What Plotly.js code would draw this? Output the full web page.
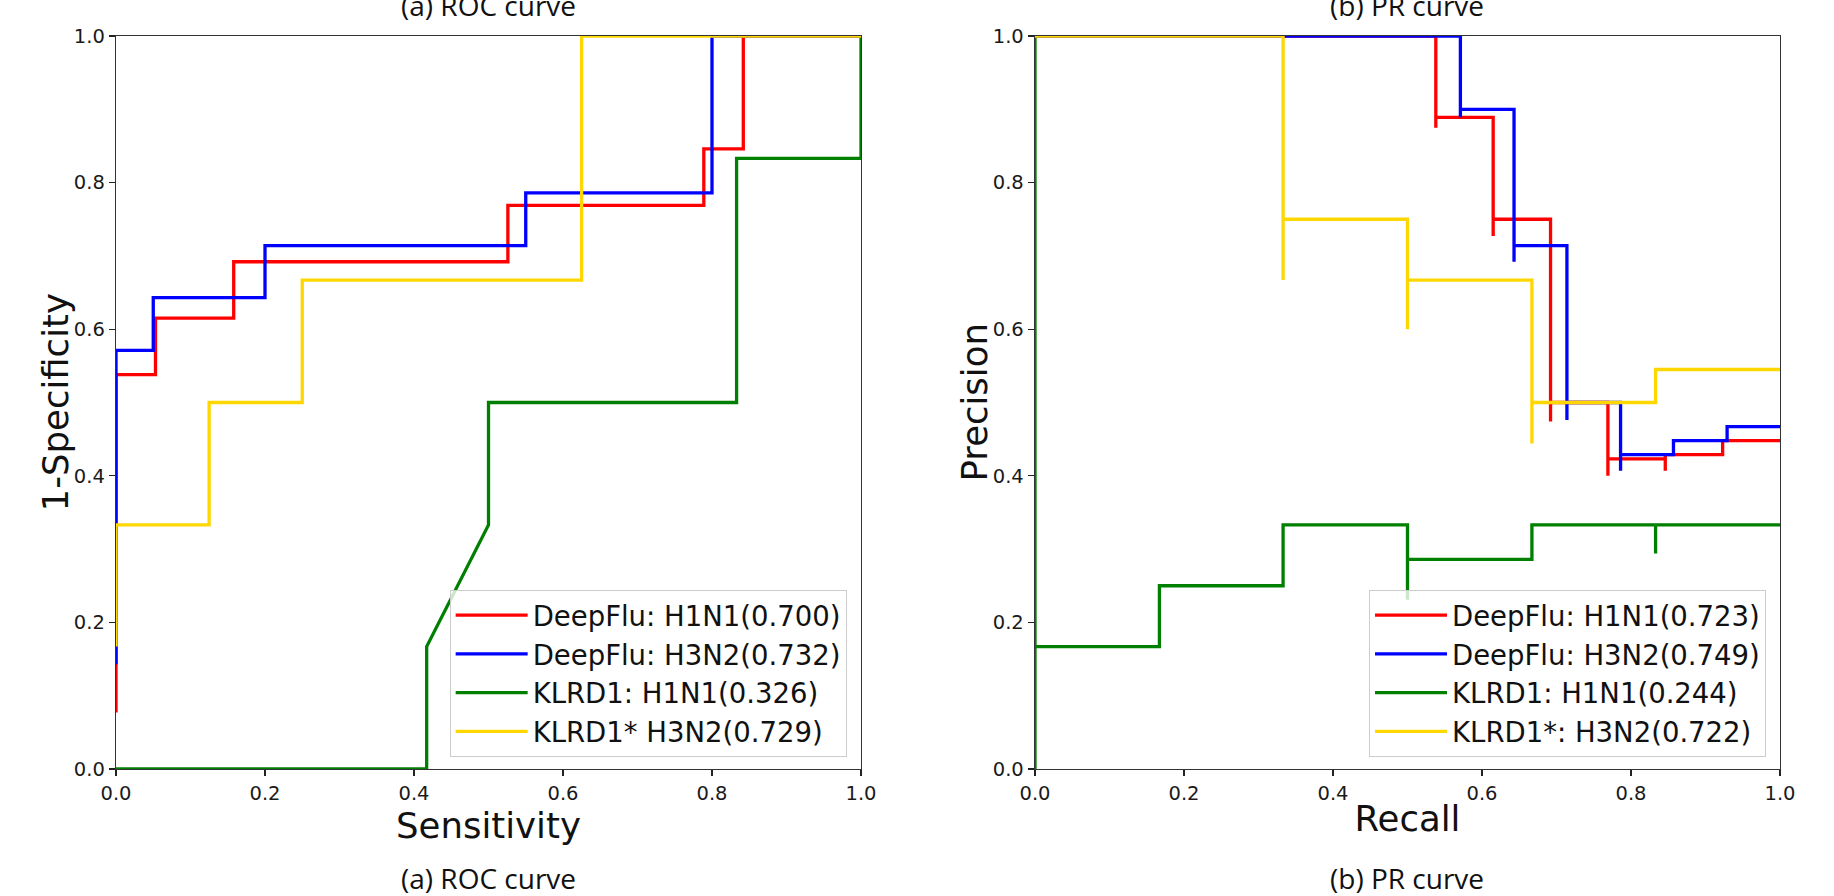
<!DOCTYPE html>
<html>
<head>
<meta charset="utf-8">
<script src="https://cdn.plot.ly/plotly-3.0.1.min.js"></script>
<style>html,body{margin:0;padding:0;background:#fff;}</style>
</head>
<body>
<div id="chart" style="width:1834px;height:896px;"></div>
<script>
// ---- data ----
const rocLabels = ['DeepFlu: H1N1(0.700)', 'DeepFlu: H3N2(0.732)', 'KLRD1: H1N1(0.326)', 'KLRD1* H3N2(0.729)'];
const prLabels  = ['DeepFlu: H1N1(0.723)', 'DeepFlu: H3N2(0.749)', 'KLRD1: H1N1(0.244)', 'KLRD1*: H3N2(0.722)'];
const seriesColors = ['#ff0000', '#0000ff', '#008000', '#ffd700'];
const tickValues = [0, 0.2, 0.4, 0.6, 0.8, 1.0];
const tickLabels = ['0.0', '0.2', '0.4', '0.6', '0.8', '1.0'];

// ROC curve points (x = Sensitivity axis, y = 1-Specificity axis)
const rocDeepFluH1N1X = [0, 0, 0.053, 0.053, 0.158, 0.158, 0.526, 0.526, 0.789, 0.789, 0.842, 0.842, 1];
const rocDeepFluH1N1Y = [0.077, 0.538, 0.538, 0.615, 0.615, 0.692, 0.692, 0.769, 0.769, 0.846, 0.846, 1, 1];
const rocDeepFluH3N2X = [0, 0, 0.05, 0.05, 0.2, 0.2, 0.55, 0.55, 0.8, 0.8, 1];
const rocDeepFluH3N2Y = [0.143, 0.571, 0.571, 0.643, 0.643, 0.714, 0.714, 0.786, 0.786, 1, 1];
const rocKlrdH1N1X = [0, 0.417, 0.417, 0.5, 0.5, 0.833, 0.833, 1, 1];
const rocKlrdH1N1Y = [0, 0, 0.167, 0.333, 0.5, 0.5, 0.833, 0.833, 1];
const rocKlrdH3N2X = [0, 0, 0.125, 0.125, 0.25, 0.25, 0.625, 0.625, 1];
const rocKlrdH3N2Y = [0.167, 0.333, 0.333, 0.5, 0.5, 0.667, 0.667, 1, 1];

// PR curve points (recall, precision), drawn as steps
const prDeepFluH1N1R = [0, 0.538, 0.538, 0.615, 0.615, 0.692, 0.692, 0.769, 0.769, 0.846, 0.846, 0.923, 1];
const prDeepFluH1N1P = [1, 1, 0.875, 0.889, 0.727, 0.75, 0.474, 0.5, 0.4, 0.423, 0.407, 0.429, 0.448];
const prDeepFluH3N2R = [0, 0.571, 0.571, 0.643, 0.643, 0.714, 0.714, 0.786, 0.786, 0.857, 0.929, 1];
const prDeepFluH3N2P = [1, 1, 0.889, 0.9, 0.692, 0.714, 0.476, 0.5, 0.407, 0.429, 0.448, 0.467];
const prKlrdH1N1R = [0, 0, 0.167, 0.333, 0.5, 0.5, 0.667, 0.833, 0.833, 1];
const prKlrdH1N1P = [1, 0, 0.167, 0.25, 0.333, 0.231, 0.286, 0.333, 0.294, 0.333];
const prKlrdH3N2R = [0, 0.333, 0.333, 0.5, 0.5, 0.667, 0.667, 0.833, 1];
const prKlrdH3N2P = [1, 1, 0.667, 0.75, 0.6, 0.667, 0.444, 0.5, 0.545];

const rocXs = [rocDeepFluH1N1X, rocDeepFluH3N2X, rocKlrdH1N1X, rocKlrdH3N2X];
const rocYs = [rocDeepFluH1N1Y, rocDeepFluH3N2Y, rocKlrdH1N1Y, rocKlrdH3N2Y];
const prRs = [prDeepFluH1N1R, prDeepFluH3N2R, prKlrdH1N1R, prKlrdH3N2R];
const prPs = [prDeepFluH1N1P, prDeepFluH3N2P, prKlrdH1N1P, prKlrdH3N2P];

const LW = 3.3;
const traces = [];
for (let i = 0; i < 4; i++) {
  traces.push({
    x: rocXs[i], y: rocYs[i], type: 'scatter', mode: 'lines',
    name: rocLabels[i], line: {color: seriesColors[i], width: LW, shape: 'linear'},
    xaxis: 'x', yaxis: 'y', legend: 'legend', hoverinfo: 'skip'
  });
}
for (let i = 0; i < 4; i++) {
  traces.push({
    x: prRs[i], y: prPs[i], type: 'scatter', mode: 'lines',
    name: prLabels[i], line: {color: seriesColors[i], width: LW, shape: 'vh'},
    xaxis: 'x2', yaxis: 'y2', legend: 'legend2', hoverinfo: 'skip'
  });
}

const FONT = 'DejaVu Sans, sans-serif';
function axis(extra) {
  return Object.assign({
    range: [0, 1], tickvals: tickValues, ticktext: tickLabels,
    ticks: 'outside', ticklen: 6, tickwidth: 1.2, tickcolor: '#222',
    showline: true, mirror: true, linecolor: '#333', linewidth: 1.3,
    showgrid: false, zeroline: false, fixedrange: true,
    tickfont: {family: FONT, size: 19.5, color: '#1a1a1a'}
  }, extra);
}
const titleFont = {family: FONT, size: 35.5, color: '#111'};
const capFont = {family: 'Open Sans, sans-serif', size: 28, color: '#111'};
const legendCommon = {
  bgcolor: 'rgba(255,255,255,0.8)', bordercolor: '#cccccc', borderwidth: 1,
  font: {family: FONT, size: 27.5, color: '#111'}, itemwidth: 72,
  xanchor: 'right', yanchor: 'bottom', y: 0.0168
};

const layout = {
  width: 1834, height: 896, autosize: false,
  margin: {l: 116, r: 54, t: 36, b: 127, pad: 0},
  paper_bgcolor: '#ffffff', plot_bgcolor: '#ffffff',
  showlegend: true,
  xaxis: axis({domain: [0, 0.44772], anchor: 'y', title: {text: 'Sensitivity', font: titleFont, standoff: 2}}),
  yaxis: axis({domain: [0, 1], anchor: 'x'}),
  xaxis2: axis({domain: [0.55228, 1], anchor: 'y2', title: {text: 'Recall', font: titleFont, standoff: 2}}),
  yaxis2: axis({domain: [0, 1], anchor: 'x2'}),
  legend: Object.assign({x: 0.4391}, legendCommon),
  legend2: Object.assign({x: 0.9916}, legendCommon),
  annotations: [
    {text: '1-Specificity', xref: 'paper', yref: 'y domain', x: -0.0361, y: 0.5, textangle: -90, xanchor: 'center', yanchor: 'middle', showarrow: false, font: titleFont},
    {text: 'Precision', xref: 'paper', yref: 'y2 domain', x: 0.5162, y: 0.5, textangle: -90, xanchor: 'center', yanchor: 'middle', showarrow: false, font: titleFont},
    {text: '(a) ROC curve', xref: 'x domain', yref: 'paper', x: 0.5, y: 1.0423, xanchor: 'center', yanchor: 'middle', showarrow: false, font: capFont},
    {text: '(b) PR curve', xref: 'x2 domain', yref: 'paper', x: 0.5, y: 1.0423, xanchor: 'center', yanchor: 'middle', showarrow: false, font: capFont},
    {text: '(a) ROC curve', xref: 'x domain', yref: 'paper', x: 0.5, y: -0.1487, xanchor: 'center', yanchor: 'middle', showarrow: false, font: capFont},
    {text: '(b) PR curve', xref: 'x2 domain', yref: 'paper', x: 0.5, y: -0.1487, xanchor: 'center', yanchor: 'middle', showarrow: false, font: capFont}
  ]
};

Plotly.newPlot('chart', traces, layout, {displayModeBar: false, staticPlot: true});
</script>
</body>
</html>
